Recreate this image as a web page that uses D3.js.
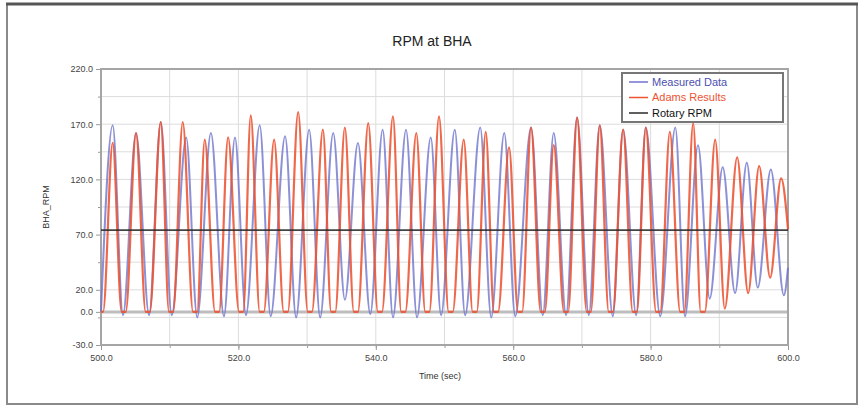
<!DOCTYPE html>
<html>
<head>
<meta charset="utf-8">
<script src="https://cdn.jsdelivr.net/npm/d3@7"></script>
<style>
  body { margin: 0; background: #fff; }
  svg text { font-family: "Liberation Sans", Arial, sans-serif; }
</style>
</head>
<body>
<div id="chart"></div>
<script>
// RPM at BHA: measured vs simulated stick-slip, with the rotary table speed.

const xTicks = [500, 520, 540, 560, 580, 600];
const xGrid = [510, 520, 530, 540, 550, 560, 570, 580, 590];
const yTicks = [-30, 0, 20, 70, 120, 170, 220];
const yMinor = [-5, 45, 95, 145, 195];
const yGrid = [-5, 20, 45, 70, 95, 120, 145, 170, 195];

const seriesNames = ['Measured Data', 'Adams Results', 'Rotary RPM'];
const seriesColors = ['#6f74cc', '#ec5332', '#2a2a2a'];

const measuredTime = [
  500.0, 501.7, 503.2, 505.1, 507.0, 508.7, 510.3, 512.4, 514.0, 516.0,
  517.9, 519.5, 521.1, 523.1, 524.7, 526.8, 528.4, 530.3, 531.9, 533.8,
  535.5, 537.4, 539.2, 541.0, 542.5, 544.4, 546.0, 548.0, 549.5, 551.5,
  553.0, 555.2, 556.8, 558.7, 560.3, 562.6, 564.3, 565.9, 567.7, 569.3,
  571.0, 572.6, 574.5, 576.0, 577.9, 579.3, 581.4, 583.6, 585.0, 586.9,
  588.6, 590.5, 592.3, 594.0, 595.6, 597.5, 599.4, 600.0
];
const measuredRpm = [
  0, 169, -3, 162, -3, 172, -3, 158, -5, 162,
  -4, 158, -3, 169, -4, 159, -5, 165, -5, 162,
  11, 153, -2, 165, -5, 165, -5, 158, -3, 165,
  -3, 167, -5, 162, -4, 167, -3, 162, -3, 176,
  -3, 169, -4, 165, -3, 167, -4, 167, -4, 151,
  12, 131, 17, 135, 22, 129, 15, 40
];

// Adams results: the bit sticks at 0 rpm for a moment in each cycle.
const adamsTime = [
  500.0, 500.3, 501.7, 503.0, 503.6, 505.1, 506.5, 507.1, 508.7, 509.9,
  510.5, 511.9, 513.4, 514.0, 515.1, 516.6, 517.2, 518.5, 520.1, 520.7,
  521.8, 523.1, 523.7, 525.2, 526.6, 527.2, 528.7, 530.1, 530.7, 532.3,
  533.5, 534.1, 535.5, 536.8, 537.4, 538.9, 540.3, 540.9, 542.5, 543.7,
  544.3, 545.9, 547.2, 547.8, 549.2, 550.6, 551.2, 552.8, 554.1, 554.7,
  556.0, 557.2, 557.8, 559.4, 560.7, 561.3, 562.6, 564.0, 564.6, 565.9,
  567.4, 568.0, 569.3, 570.7, 571.3, 572.6, 573.9, 574.5, 576.0, 577.4,
  578.0, 579.3, 580.8, 581.4, 582.8, 584.3, 584.9, 586.2, 587.3, 587.9,
  589.4, 590.8, 592.6, 594.2, 595.8, 597.4, 599.0, 600.0
];
const adamsRpm = [
  0, 0, 153, 0, 0, 162, 0, 0, 172, 0,
  0, 172, 0, 0, 156, 0, 0, 158, 0, 0,
  178, 0, 0, 156, 0, 0, 181, 0, 0, 165,
  0, 0, 167, 0, 0, 171, 0, 0, 177, 0,
  0, 162, 0, 0, 177, 0, 0, 156, 0, 0,
  163, 0, 0, 149, 0, 0, 167, 0, 0, 151,
  0, 0, 176, 0, 0, 169, 0, 0, 165, 0,
  0, 167, 0, 0, 163, 0, 0, 171, 0, 0,
  156, 3, 140, 17, 132, 31, 121, 75
];

const rotaryTime = [500, 600];
const rotaryRpm = [74, 74];

const W = 861, H = 408;
const plot = { left: 101, right: 788, top: 69, bottom: 345 };

const svg = d3.select('#chart')
  .append('svg')
  .attr('width', W)
  .attr('height', H);

// Outer frame.
svg.append('rect')
  .attr('x', 7).attr('y', 4)
  .attr('width', 850).attr('height', 400)
  .attr('fill', '#fff')
  .attr('stroke', '#8a8a8a')
  .attr('stroke-width', 2);
svg.append('line')
  .attr('x1', 6).attr('x2', 858)
  .attr('y1', 4).attr('y2', 4)
  .attr('stroke', '#555')
  .attr('stroke-width', 3);

const x = d3.scaleLinear().domain([500, 600]).range([plot.left, plot.right]);
const y = d3.scaleLinear().domain([-30, 220]).range([plot.bottom, plot.top]);

// Plain hyphen for negatives, like the original.
const fmt = d => d.toFixed(1);

// Grid.
const grid = svg.append('g');
grid.selectAll('line.gx')
  .data(xGrid)
  .enter().append('line')
  .attr('x1', d => x(d)).attr('x2', d => x(d))
  .attr('y1', plot.top).attr('y2', plot.bottom)
  .attr('stroke', '#dcdcdc').attr('stroke-width', 1);
grid.selectAll('line.gy')
  .data(yGrid)
  .enter().append('line')
  .attr('x1', plot.left).attr('x2', plot.right)
  .attr('y1', d => y(d)).attr('y2', d => y(d))
  .attr('stroke', '#dcdcdc').attr('stroke-width', 1);
// Zero line.
grid.append('line')
  .attr('x1', plot.left).attr('x2', plot.right)
  .attr('y1', y(0)).attr('y2', y(0))
  .attr('stroke', '#bdbdbd').attr('stroke-width', 3);

// Axes.
svg.append('g')
  .attr('transform', `translate(${plot.left},0)`)
  .call(d3.axisLeft(y).tickValues(yTicks).tickFormat(fmt).tickSize(5).tickPadding(3));
svg.append('g')
  .attr('transform', `translate(${plot.left},0)`)
  .call(d3.axisLeft(y).tickValues(yMinor).tickFormat('').tickSize(3));

svg.append('g')
  .attr('transform', `translate(0,${plot.bottom})`)
  .call(d3.axisBottom(x).tickValues(xTicks).tickFormat(fmt).tickSize(5).tickPadding(5));
svg.append('g')
  .attr('transform', `translate(0,${plot.bottom})`)
  .call(d3.axisBottom(x).tickValues(xGrid).tickFormat('').tickSize(3));

svg.selectAll('.domain').remove();
svg.selectAll('.tick line').attr('stroke', '#999');
svg.selectAll('.tick text')
  .attr('fill', '#444')
  .style('font-size', '9px');

// Plot border.
svg.append('rect')
  .attr('x', plot.left).attr('y', plot.top)
  .attr('width', plot.right - plot.left)
  .attr('height', plot.bottom - plot.top)
  .attr('fill', 'none')
  .attr('stroke', '#a5a5a5')
  .attr('stroke-width', 2);

// Series.
const line = d3.line()
  .x(d => x(d[0]))
  .y(d => y(d[1]))
  .curve(d3.curveMonotoneX);

const series = [
  d3.zip(measuredTime, measuredRpm),
  d3.zip(adamsTime, adamsRpm),
  d3.zip(rotaryTime, rotaryRpm)
];
const widths = [2, 2.2, 1.8];

svg.append('g')
  .selectAll('path')
  .data(series)
  .enter().append('path')
  .attr('d', line)
  .attr('fill', 'none')
  .attr('stroke', (d, i) => seriesColors[i])
  .attr('stroke-width', (d, i) => widths[i])
  .attr('stroke-opacity', (d, i) => i === 0 ? 0.8 : 0.88)
  .attr('stroke-linejoin', 'round');

// Titles.
svg.append('text')
  .attr('x', 432).attr('y', 46)
  .attr('text-anchor', 'middle')
  .attr('fill', '#222')
  .style('font-size', '14px')
  .text('RPM at BHA');

svg.append('text')
  .attr('x', 440).attr('y', 379)
  .attr('text-anchor', 'middle')
  .attr('fill', '#333')
  .style('font-size', '9px')
  .text('Time (sec)');

svg.append('text')
  .attr('transform', `translate(49,${(plot.top + plot.bottom) / 2}) rotate(-90)`)
  .attr('text-anchor', 'middle')
  .attr('fill', '#333')
  .style('font-size', '9px')
  .text('BHA_RPM');

// Legend.
const legend = svg.append('g').attr('transform', 'translate(622,73)');
legend.append('rect')
  .attr('width', 161).attr('height', 49)
  .attr('fill', '#fff')
  .attr('stroke', '#777')
  .attr('stroke-width', 2);
const items = legend.selectAll('g.item')
  .data(seriesNames)
  .enter().append('g')
  .attr('transform', (d, i) => `translate(0,${9 + i * 15.5})`);
items.append('line')
  .attr('x1', 7).attr('x2', 26)
  .attr('stroke', (d, i) => seriesColors[i])
  .attr('stroke-width', 1.5);
items.append('text')
  .attr('x', 30).attr('dy', '0.36em')
  .attr('fill', (d, i) => i === 0 ? '#4c50b0' : (i === 2 ? '#111' : seriesColors[i]))
  .style('font-size', '11px')
  .text(d => d);
</script>
</body>
</html>
